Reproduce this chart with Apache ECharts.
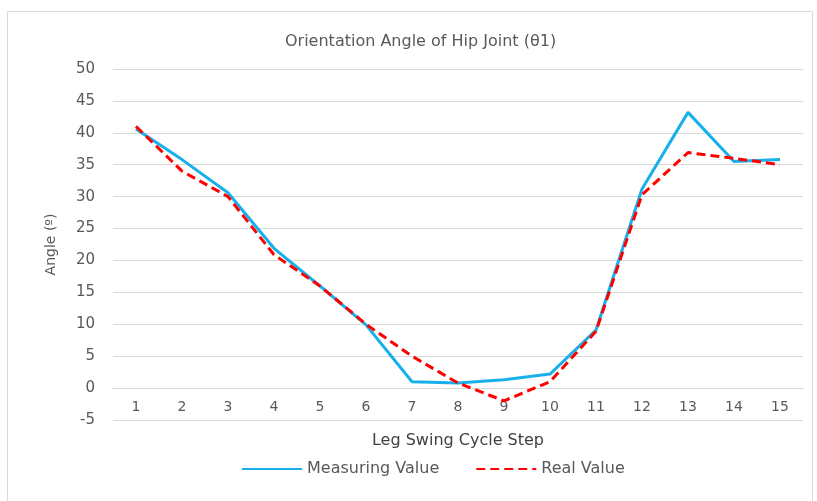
<!DOCTYPE html>
<html><head><meta charset="utf-8">
<script src="https://cdn.jsdelivr.net/npm/echarts@6/dist/echarts.min.js"></script>
<style>html,body{margin:0;padding:0;background:#fff}#c{width:817px;height:501px}</style>
</head><body><div id="c"></div>
<script>
const steps = ['1','2','3','4','5','6','7','8','9','10','11','12','13','14','15'];
const measuring = [40.6, 35.8, 30.6, 21.9, 16.0, 9.9, 1.0, 0.8, 1.3, 2.2, 9.1, 31.2, 43.2, 35.5, 35.8];
const real = [41.0, 34.0, 30.0, 20.9, 16.0, 10.0, 5.0, 0.8, -2.0, 1.0, 8.9, 30.3, 36.9, 36.0, 35.0];
const FONT = 'DejaVu Sans';
const chart = echarts.init(document.getElementById('c'));
chart.setOption({
  animation: false,
  textStyle: {fontFamily: FONT},
  graphic: [{type:'rect', shape:{x:7.5, y:11.5, width:805, height:495}, style:{fill:'none', stroke:'#d9d9d9', lineWidth:1}}],
  title: {text: 'Orientation Angle of Hip Joint (θ1)', left: 280, top: 29,
    textStyle: {fontFamily: FONT, fontSize: 16, fontWeight: 'normal', color: '#595959'}},
  grid: {left: 113, right: 14, top: 69, bottom: 81, containLabel: false},
  legend: {bottom: 19, left: 236, itemWidth: 60, itemHeight: 10, itemGap: 36,
    itemStyle: {opacity: 0},
    textStyle: {fontFamily: FONT, fontSize: 16, color: '#595959'},
    data: ['Measuring Value', 'Real Value']},
  xAxis: {type: 'category', data: steps, boundaryGap: true, offset: -32,
    name: 'Leg Swing Cycle Step', nameLocation: 'middle', nameGap: 45, nameMoveOverlap: false,
    nameTextStyle: {fontFamily: FONT, fontSize: 16, color: '#404040'},
    axisLine: {onZero: false, lineStyle: {color: '#d9d9d9'}},
    axisTick: {show: false},
    axisLabel: {fontFamily: FONT, fontSize: 14, color: '#595959', margin: 12}},
  yAxis: {type: 'value', min: -5, max: 50, interval: 5,
    name: 'Angle (º)', nameLocation: 'middle', nameGap: 55, nameRotate: 90,
    nameTextStyle: {fontFamily: FONT, fontSize: 14, color: '#595959'},
    axisLine: {show: false}, axisTick: {show: false},
    axisLabel: {fontFamily: FONT, fontSize: 15, color: '#595959', margin: 18},
    splitLine: {lineStyle: {color: '#d9d9d9', width: 1}}},
  series: [
    {name: 'Measuring Value', type: 'line', data: measuring, symbol: 'none',
      lineStyle: {color: '#17b0ea', width: 3}, itemStyle: {color: '#17b0ea'}},
    {name: 'Real Value', type: 'line', data: real, symbol: 'none',
      lineStyle: {color: '#ff0000', width: 3, type: [9, 5]}, itemStyle: {color: '#ff0000'}}
  ]
});
</script></body></html>
